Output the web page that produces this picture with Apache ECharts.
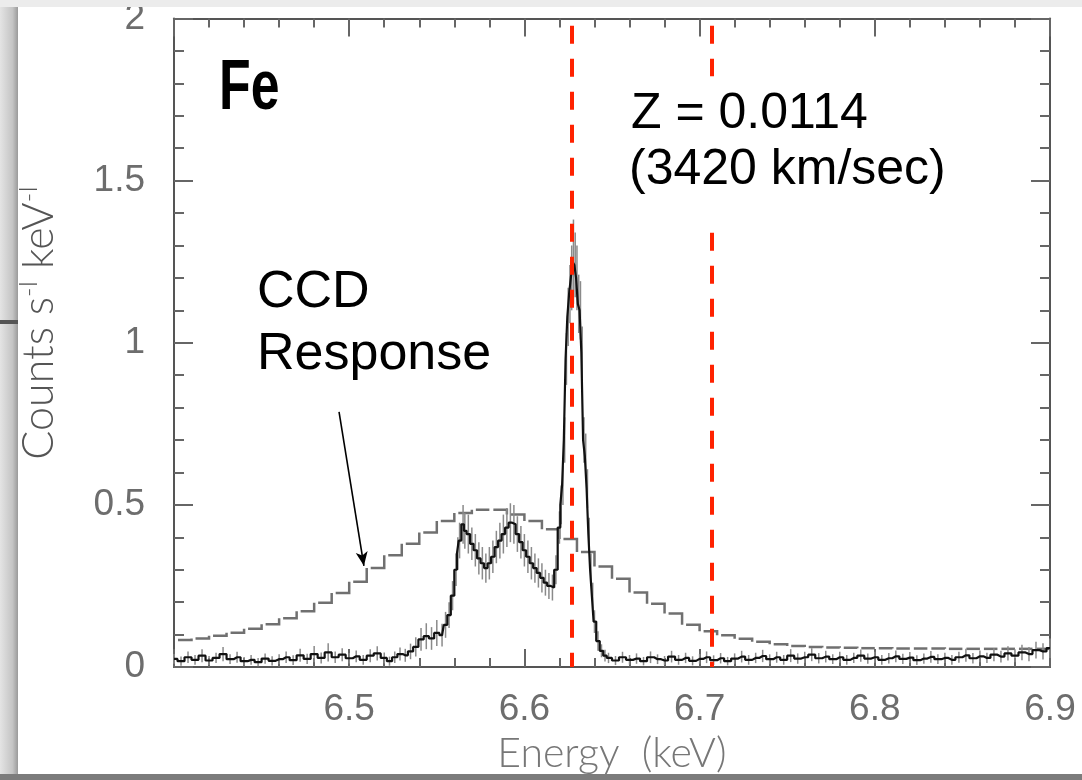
<!DOCTYPE html>
<html>
<head>
<meta charset="utf-8">
<script src="https://cdn.jsdelivr.net/npm/echarts@6/dist/echarts.min.js"></script>
<style>
html,body{margin:0;padding:0;background:#ffffff;}
#chart{width:1082px;height:780px;}
</style>
</head>
<body>
<div id="chart"></div>
<script>
// ---------------- DATA ----------------
const energyMin = 6.4, energyMax = 6.9, energyStep = 0.1;
const countMin = 0, countMax = 2, countStep = 0.5;
const xTickLabels = ['6.5', '6.6', '6.7', '6.8', '6.9'];
const yTickLabels = ['0', '0.5', '1', '1.5', '2'];

// Observed spectrum: [energy keV, counts s^-1 keV^-1, error]
const spectrum = [
[6.400,0.025,0.015],[6.404,0.018,0.014],[6.408,0.030,0.018],[6.412,0.022,0.015],[6.416,0.035,0.020],
[6.420,0.020,0.014],[6.424,0.028,0.016],[6.428,0.040,0.022],[6.432,0.024,0.015],[6.436,0.030,0.017],
[6.440,0.018,0.013],[6.444,0.022,0.015],[6.448,0.015,0.013],[6.452,0.026,0.016],[6.456,0.019,0.014],
[6.460,0.024,0.015],[6.464,0.030,0.018],[6.468,0.021,0.015],[6.472,0.036,0.020],[6.476,0.025,0.016],
[6.480,0.040,0.025],[6.484,0.028,0.017],[6.488,0.045,0.028],[6.492,0.030,0.018],[6.496,0.038,0.020],
[6.500,0.027,0.016],[6.504,0.033,0.018],[6.508,0.022,0.015],[6.512,0.035,0.020],[6.516,0.042,0.022],
[6.520,0.028,0.017],[6.523,0.018,0.014],[6.526,0.030,0.018],[6.529,0.040,0.020],[6.532,0.036,0.020],
[6.535,0.048,0.024],[6.538,0.062,0.030],[6.541,0.085,0.035],[6.544,0.095,0.040],[6.547,0.088,0.035],
[6.550,0.105,0.040],[6.553,0.098,0.035],[6.555,0.130,0.040],[6.557,0.160,0.040],[6.559,0.220,0.045],
[6.561,0.300,0.050],[6.562,0.350,0.050],[6.563,0.390,0.055],[6.565,0.440,0.060],[6.566,0.420,0.055],
[6.568,0.410,0.060],[6.570,0.380,0.050],[6.572,0.360,0.050],[6.574,0.335,0.050],[6.576,0.320,0.050],
[6.578,0.305,0.045],[6.580,0.320,0.050],[6.582,0.340,0.050],[6.584,0.370,0.050],[6.586,0.390,0.055],
[6.588,0.410,0.060],[6.590,0.430,0.060],[6.592,0.445,0.060],[6.594,0.440,0.060],[6.596,0.410,0.055],
[6.598,0.385,0.050],[6.600,0.360,0.050],[6.602,0.340,0.050],[6.604,0.320,0.050],[6.606,0.305,0.045],
[6.608,0.290,0.045],[6.610,0.275,0.045],[6.612,0.260,0.040],[6.614,0.250,0.040],[6.616,0.245,0.040],
[6.618,0.300,0.045],[6.620,0.430,0.050],[6.621,0.500,0.060],[6.622,0.560,0.060],[6.623,0.700,0.070],
[6.624,0.950,0.080],[6.625,1.080,0.090],[6.626,1.150,0.090],[6.627,1.200,0.100],[6.628,1.250,0.130],
[6.629,1.240,0.100],[6.630,1.200,0.100],[6.631,1.120,0.090],[6.632,1.100,0.090],[6.633,0.970,0.080],
[6.634,0.700,0.070],[6.635,0.650,0.070],[6.636,0.550,0.060],[6.637,0.410,0.050],[6.638,0.300,0.050],
[6.639,0.220,0.040],[6.640,0.140,0.035],[6.642,0.080,0.030],[6.644,0.050,0.020],[6.646,0.035,0.018],
[6.648,0.028,0.016],[6.652,0.020,0.014],[6.656,0.030,0.017],[6.660,0.022,0.015],[6.664,0.026,0.016],
[6.668,0.018,0.013],[6.672,0.030,0.018],[6.676,0.024,0.015],[6.680,0.020,0.014],[6.684,0.032,0.018],
[6.688,0.022,0.015],[6.692,0.028,0.016],[6.696,0.019,0.014],[6.700,0.025,0.015],[6.704,0.030,0.018],
[6.708,0.021,0.015],[6.712,0.027,0.016],[6.716,0.018,0.013],[6.720,0.026,0.016],[6.724,0.032,0.018],
[6.728,0.022,0.015],[6.732,0.028,0.016],[6.736,0.034,0.019],[6.740,0.024,0.015],[6.744,0.030,0.017],
[6.748,0.022,0.015],[6.752,0.035,0.020],[6.756,0.026,0.016],[6.760,0.030,0.017],[6.764,0.038,0.020],
[6.768,0.027,0.016],[6.772,0.032,0.018],[6.776,0.024,0.015],[6.780,0.030,0.017],[6.784,0.022,0.015],
[6.788,0.028,0.016],[6.792,0.035,0.019],[6.796,0.026,0.016],[6.800,0.030,0.017],[6.804,0.022,0.015],
[6.808,0.027,0.016],[6.812,0.033,0.018],[6.816,0.025,0.016],[6.820,0.029,0.017],[6.824,0.021,0.015],
[6.828,0.026,0.016],[6.832,0.031,0.018],[6.836,0.024,0.015],[6.840,0.028,0.016],[6.844,0.022,0.015],
[6.848,0.030,0.017],[6.852,0.036,0.020],[6.856,0.027,0.016],[6.860,0.033,0.018],[6.864,0.028,0.016],
[6.868,0.038,0.020],[6.872,0.032,0.018],[6.876,0.042,0.022],[6.880,0.035,0.020],[6.884,0.045,0.024],
[6.888,0.040,0.022],[6.892,0.052,0.026],[6.896,0.048,0.025],[6.900,0.058,0.030]
];

// CCD response model: step histogram, bins of ccdBinWidth keV starting at ccdBinStart
const ccdBinStart = 6.40, ccdBinWidth = 0.01;
const ccdResponse = [
0.083,0.088,0.096,0.106,0.118,0.132,0.150,0.172,0.198,0.228,
0.263,0.305,0.345,0.380,0.415,0.450,0.475,0.485,0.485,0.470,
0.450,0.425,0.395,0.355,0.310,0.272,0.230,0.195,0.165,0.130,
0.110,0.098,0.087,0.078,0.070,0.065,0.062,0.060,0.059,0.058,
0.058,0.057,0.057,0.057,0.056,0.056,0.056,0.056,0.056,0.056
];

// Fe XXV line: observed (z = 0.0114) and rest energy, keV
const lineEnergies = [6.6273, 6.7069];
// arrow from label "CCD Response" to the model curve: [energy, counts]
const arrowFrom = [6.4942, 0.787], arrowTo = [6.5084, 0.312];

const labelFe = 'Fe';
const labelZ = ['Z = 0.0114', '(3420 km/sec)'];
const labelCCD = ['CCD', 'Response'];

// ---------------- CHART ----------------
const chart = echarts.init(document.getElementById('chart'), null, {renderer: 'canvas'});

const ccdData = ccdResponse.map((v, i) => [
  ccdBinStart + i * ccdBinWidth,
  ccdBinStart + (i + 1) * ccdBinWidth,
  v,
  i + 1 < ccdResponse.length ? ccdResponse[i + 1] : v
]);

const axisColor = '#555';
const tickColor = '#666';
const labelColor = '#6d6d6d';

function xAxisBase(pos) {
  return {
    type: 'value', min: energyMin, max: energyMax, interval: energyStep, position: pos,
    axisLine: {show: true, onZero: false, lineStyle: {color: axisColor, width: 2}},
    axisTick: {show: true, inside: true, length: 18, lineStyle: {color: tickColor, width: 2}},
    minorTick: {show: true, splitNumber: 5, length: 9, lineStyle: {color: tickColor, width: 2}},
    splitLine: {show: false}, minorSplitLine: {show: false}
  };
}
function yAxisBase(pos) {
  return {
    type: 'value', min: countMin, max: countMax, interval: countStep, position: pos,
    axisLine: {show: true, onZero: false, lineStyle: {color: axisColor, width: 2}},
    axisTick: {show: true, inside: true, length: 19, lineStyle: {color: tickColor, width: 2}},
    minorTick: {show: true, splitNumber: 5, length: 10, lineStyle: {color: tickColor, width: 2}},
    splitLine: {show: false}, minorSplitLine: {show: false}
  };
}

const redLine = {color: '#ff2200', width: 4, type: [18, 15], opacity: 1};

const option = {
  backgroundColor: '#ffffff',
  animation: false,
  grid: {left: 174, right: 32, top: 18, bottom: 113, containLabel: false},
  xAxis: [
    Object.assign(xAxisBase('bottom'), {
      axisLabel: {
        show: true, margin: 24, color: labelColor, fontSize: 37, fontFamily: 'Liberation Sans',
        formatter: v => { const s = (+v).toFixed(1); return xTickLabels.includes(s) ? s : ''; }
      },
      name: 'Energy  (keV)', nameLocation: 'middle', nameGap: 60,
      nameTextStyle: {color: '#777', fontSize: 41, fontFamily: 'Lato', fontWeight: 300}
    }),
    Object.assign(xAxisBase('top'), {axisLabel: {show: false}})
  ],
  yAxis: [
    Object.assign(yAxisBase('left'), {
      axisLabel: {
        show: true, margin: 29, color: labelColor, fontSize: 37, fontFamily: 'Liberation Sans',
        formatter: v => { const s = String(+(+v).toFixed(1)); return yTickLabels.includes(s) ? s : ''; }
      },
      name: '{n|Counts s}{s|-I}{n| keV}{s|-I}', nameLocation: 'middle', nameGap: 112, nameRotate: 90,
      nameTextStyle: {
        color: '#555', padding: [0, 0, 0, 40],
        rich: {
          n: {fontSize: 43, fontFamily: 'Lato', fontWeight: 300, color: '#555', lineHeight: 46},
          s: {fontSize: 26, fontFamily: 'Lato', fontWeight: 300, color: '#555', verticalAlign: 'top', lineHeight: 46, padding: [0, 0, 16, 0]}
        }
      }
    }),
    Object.assign(yAxisBase('right'), {axisLabel: {show: false}})
  ],
  series: [
    {
      name: 'CCD response', type: 'custom', xAxisIndex: 0, yAxisIndex: 0,
      data: ccdData, encode: {x: [0, 1], y: 2}, z: 2, silent: true,
      renderItem: function (params, api) {
        const a = api.coord([api.value(0), api.value(2)]);
        const b = api.coord([api.value(1), api.value(2)]);
        const c = api.coord([api.value(1), api.value(3)]);
        return {
          type: 'polyline',
          shape: {points: [[a[0] + 4, a[1]], [b[0], b[1]], [c[0], c[1]]]},
          style: {stroke: '#707070', lineWidth: 2.5, fill: null}
        };
      }
    },
    {
      name: 'errors', type: 'custom', xAxisIndex: 0, yAxisIndex: 0,
      data: spectrum, encode: {x: 0, y: 1}, z: 3, silent: true,
      renderItem: function (params, api) {
        const x = api.value(0), y = api.value(1), e = api.value(2);
        const p1 = api.coord([x, Math.max(0, y - e)]);
        const p2 = api.coord([x, y + e]);
        return {
          type: 'line',
          shape: {x1: p1[0], y1: p1[1], x2: p2[0], y2: p2[1]},
          style: {stroke: '#8a8a8a', lineWidth: 1.5}
        };
      }
    },
    {
      name: 'spectrum', type: 'line', xAxisIndex: 0, yAxisIndex: 0,
      data: spectrum.map(d => [d[0], d[1]]),
      step: 'middle', showSymbol: false, symbol: 'none', z: 4, silent: true,
      lineStyle: {color: '#111', width: 2.2},
      markLine: {
        silent: true, symbol: ['none', 'none'], animation: false,
        label: {show: false},
        lineStyle: redLine,
        data: [
          [{coord: [lineEnergies[0], 1.978]}, {coord: [lineEnergies[0], 0]}],
          [{coord: [lineEnergies[1], 1.978]}, {coord: [lineEnergies[1], 1.822]}],
          [{coord: [lineEnergies[1], 1.339]}, {coord: [lineEnergies[1], 0]}],
          [
            {coord: arrowFrom, symbol: 'none', lineStyle: {color: '#000', width: 1.6, type: 'solid'}},
            {coord: arrowTo, symbol: 'arrow', symbolSize: [9, 14]}
          ]
        ]
      }
    }
  ],
  graphic: [
    // page frame / shadow
    {type: 'rect', silent: true, z: 100, shape: {x: 0, y: 0, width: 18, height: 780},
     style: {fill: new echarts.graphic.LinearGradient(0, 0, 1, 0, [{offset: 0, color: '#e4e4e4'}, {offset: 0.7, color: '#c4c4c4'}, {offset: 1, color: '#9a9a9a'}])}},
    {type: 'rect', silent: true, z: 101, shape: {x: 0, y: 320, width: 18, height: 4}, style: {fill: '#555'}},
    {type: 'rect', silent: true, z: 102, shape: {x: 0, y: 0, width: 1082, height: 7}, style: {fill: '#ececec'}},
    {type: 'rect', silent: true, z: 102, shape: {x: 0, y: 774, width: 1082, height: 6}, style: {fill: '#7c7c7c'}},
    // annotations
    {type: 'text', silent: true, z: 50, x: 219, y: 90, scaleX: 0.74,
     style: {text: labelFe, font: 'bold 70px "Liberation Sans", Arial, sans-serif', fill: '#000', verticalAlign: 'middle', align: 'left'}},
    {type: 'text', silent: true, z: 50, x: 631, y: 114,
     style: {text: labelZ[0], font: '50px "Liberation Sans", Arial, sans-serif', fill: '#000', verticalAlign: 'middle', align: 'left'}},
    {type: 'text', silent: true, z: 50, x: 629, y: 170,
     style: {text: labelZ[1], font: '50px "Liberation Sans", Arial, sans-serif', fill: '#000', verticalAlign: 'middle', align: 'left'}},
    {type: 'text', silent: true, z: 50, x: 257, y: 293,
     style: {text: labelCCD[0], font: '52px "Liberation Sans", Arial, sans-serif', fill: '#000', verticalAlign: 'middle', align: 'left'}},
    {type: 'text', silent: true, z: 50, x: 257, y: 355,
     style: {text: labelCCD[1], font: '52px "Liberation Sans", Arial, sans-serif', fill: '#000', verticalAlign: 'middle', align: 'left'}}
  ]
};

chart.setOption(option);
</script>
</body>
</html>
